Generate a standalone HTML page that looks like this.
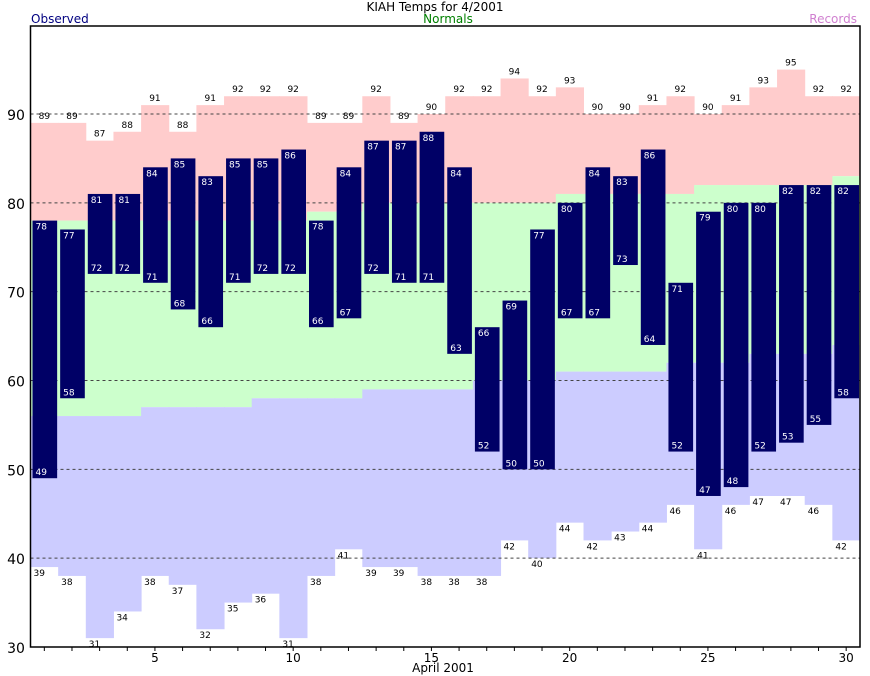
<!DOCTYPE html>
<html><head><meta charset="utf-8"><style>
html,body{margin:0;padding:0;background:#fff;}
svg{display:block;font-family:"DejaVu Sans","Liberation Sans",sans-serif;}
</style></head><body>
<svg id="chart" width="870" height="676" viewBox="0 0 870 676" xmlns="http://www.w3.org/2000/svg">
<text x="435" y="11" font-size="12" text-anchor="middle" fill="#000">KIAH Temps for 4/2001</text>
<text x="31" y="23" font-size="12" fill="#000080">Observed</text>
<text x="448" y="23" font-size="12" text-anchor="middle" fill="#008000">Normals</text>
<text x="857" y="23" font-size="12" text-anchor="end" fill="#d080d0">Records</text>
<g id="bg"></g><g id="grid"></g><g id="bars"></g><g id="labels"></g><g id="axes"></g>
</svg>
<script>
const days = [1,2,3,4,5,6,7,8,9,10,11,12,13,14,15,16,17,18,19,20,21,22,23,24,25,26,27,28,29,30];
const obsHigh = [78,77,81,81,84,85,83,85,85,86,78,84,87,87,88,84,66,69,77,80,84,83,86,71,79,80,80,82,82,82];
const obsLow = [49,58,72,72,71,68,66,71,72,72,66,67,72,71,71,63,52,50,50,67,67,73,64,52,47,48,52,53,55,58];
const recHigh = [89,89,87,88,91,88,91,92,92,92,89,89,92,89,90,92,92,94,92,93,90,90,91,92,90,91,93,95,92,92];
const recLow = [39,38,31,34,38,37,32,35,36,31,38,41,39,39,38,38,38,42,40,44,42,43,44,46,41,46,47,47,46,42];
const normHigh = [78,78,78,78,78,78,78,78,78,78,79,79,80,80,80,80,80,80,80,81,81,81,81,81,82,82,82,82,82,83];
const normLow = [56,56,56,56,57,57,57,57,58,58,58,58,59,59,59,59,60,60,60,61,61,61,61,62,62,62,63,63,63,64];
const yTicks = [30,40,50,60,70,80,90];
const xTicks = [5,10,15,20,25,30];

const NS="http://www.w3.org/2000/svg";
const L=30.5,R=860,T=26,B=647,yMin=30,yMax=99.9;
const slot=(R-L)/days.length;
const y=v=>B-(v-yMin)*(B-114)/60;
const x=d=>L+(d-1)*slot;
function mk(parent,tag,attrs,txt){const e=document.createElementNS(NS,tag);for(const k in attrs)e.setAttribute(k,attrs[k]);if(txt!==undefined)e.textContent=txt;document.getElementById(parent).appendChild(e);return e;}

days.forEach((d,i)=>{
  const x0=x(d);
  let e=mk('bg','rect',{x:x0,y:y(recHigh[i]),width:slot+0.5,height:y(normHigh[i])-y(recHigh[i]),fill:'#ffcccc'});
  
  
  e=mk('bg','rect',{x:x0,y:y(normHigh[i]),width:slot+0.5,height:y(normLow[i])-y(normHigh[i]),fill:'#ccffcc'});
  
  
  e=mk('bg','rect',{x:x0,y:y(normLow[i]),width:slot+0.5,height:y(recLow[i])-y(normLow[i]),fill:'#ccccff'});
  
  
});
yTicks.forEach(v=>{
  if(v>30){const g=mk('grid','line',{x1:L,x2:R,y1:y(v),y2:y(v),stroke:'#444','stroke-dasharray':'3,3','stroke-width':1});
  
  }
  const t=mk('axes','text',{x:16,y:y(v)+6,'font-size':14,'text-anchor':'middle',fill:'#000'},v);
  
  
});
days.forEach((d,i)=>{
  const x0=x(d)+2,w=slot-3;
  const b=mk('bars','rect',{x:x0,y:y(obsHigh[i]),width:w,height:y(obsLow[i])-y(obsHigh[i]),fill:'#000066'});
  
  
  let t=mk('labels','text',{x:x0+3,y:y(obsHigh[i])+9,'font-size':9,fill:'#fff'},obsHigh[i]);
  
  
  t=mk('labels','text',{x:x0+3,y:y(obsLow[i])-3,'font-size':9,fill:'#fff'},obsLow[i]);
  
  
  t=mk('labels','text',{x:x(d)+slot/2,y:y(recHigh[i])-4,'font-size':9,'text-anchor':'middle',fill:'#000'},recHigh[i]);
  
  
  t=mk('labels','text',{x:x(d)+3,y:y(recLow[i])+9,'font-size':9,fill:'#000'},recLow[i]);
  
  
  const tk=mk('axes','line',{x1:x(d)+slot/2,x2:x(d)+slot/2,y1:B,y2:B+4,stroke:'#000'});
  
  
});
xTicks.forEach(d=>{
  const t=mk('axes','text',{x:x(d)+slot/2,y:B+15,'font-size':12,'text-anchor':'middle',fill:'#000'},d);
  
  
});
let fr=mk('axes','rect',{x:L,y:T,width:R-L,height:B-T,fill:'none',stroke:'#000','stroke-width':1.5});


let xt=mk('axes','text',{x:443,y:672,'font-size':12,'text-anchor':'middle',fill:'#000'},'April 2001');


</script>
</body></html>
